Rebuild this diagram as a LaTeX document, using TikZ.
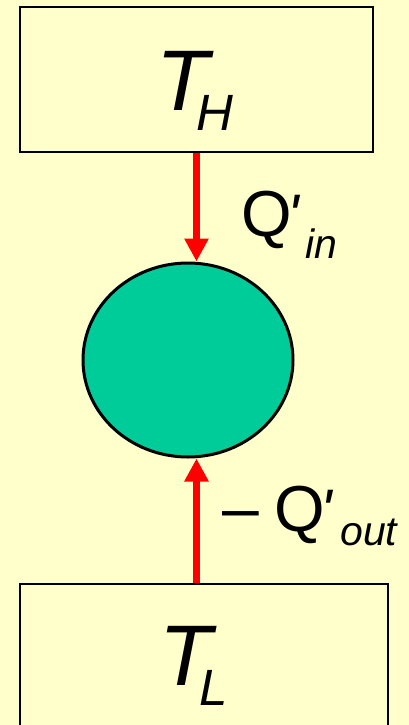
\documentclass[tikz,border=0pt]{standalone}
\usepackage{fontspec}
\setmainfont{Liberation Sans}
\newfontfamily\rawfont{Liberation Sans}
\usetikzlibrary{arrows.meta,shapes.geometric}
\definecolor{bg}{HTML}{FFFFCC}
\definecolor{engine}{HTML}{00CC99}
\definecolor{flow}{HTML}{FF0000}
\tikzset{
  reservoir/.style={draw=black, line width=1.3pt, fill=bg, rectangle, inner sep=0pt},
  engbox/.style={ellipse, draw=black, line width=3pt, fill=engine, inner sep=0pt,
                 minimum width=210pt, minimum height=194pt},
  heat/.style={draw=flow, line width=7pt, -{Triangle[width=23pt,length=23pt]}},
  txt/.style={inner sep=0pt, anchor=base west},
  big/.style={font=\fontsize{86}{86}\selectfont\itshape},
  sub/.style={font=\fontsize{51}{51}\selectfont\itshape},
  mid/.style={font=\fontsize{65}{65}\selectfont},
  primestyle/.style={font=\fontsize{60}{60}\rawfont\itshape},
  small/.style={font=\fontsize{41}{41}\selectfont\itshape},
}
\begin{document}
\begin{tikzpicture}[x=1pt,y=-1pt]
\fill[bg] (0,0) rectangle (409,725);
\useasboundingbox (0,0) rectangle (409,725);
% reservoirs
\node[reservoir, minimum width=353pt, minimum height=145pt] (TH) at (196.5,79.5) {};
\node[reservoir, minimum width=368pt, minimum height=160pt] (TL) at (204,664) {};
% engine
\node[engbox] (eng) at (188,360) {};
% heat flows
\draw[heat] (TH.south) -- (TH.south |- eng.north);
\draw[heat] (TL.north -| TH.south) -- (TH.south |- eng.south);
% labels
\node[txt, big] (tH) at (156,110) {T};
\node[txt, sub] (sH) at (196,130) {H};
\node[txt, big] (tL) at (159,685) {T};
\node[txt, sub] (sL) at (199,705) {L};
\node[txt, mid] (qin) at (241,236) {Q};
\node[txt, primestyle] (pin) at (287,236) {'};
\node[txt, small] (sin) at (305,258) {in};
\node[txt, font=\fontsize{66}{66}\selectfont] (minus) at (222,530) {–};
\node[txt, mid] (qout) at (274,531) {Q};
\node[txt, primestyle] (pout) at (320,531) {'};
\node[txt, small] (sout) at (340,545) {out};
\end{tikzpicture}
\end{document}
